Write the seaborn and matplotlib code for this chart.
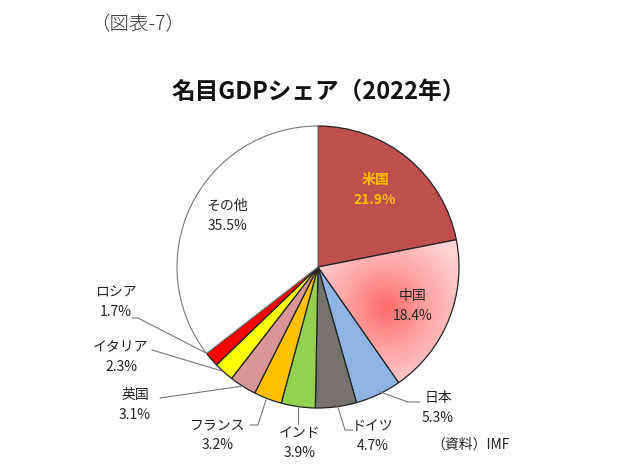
import numpy as np
import matplotlib
matplotlib.use('Agg')
import matplotlib.pyplot as plt
import seaborn as sns
from matplotlib.colors import LinearSegmentedColormap

# データ (IMF, 2022年 名目GDPシェア %)
countries = ['米国', '中国', '日本', 'ドイツ', 'インド', 'フランス', '英国', 'イタリア', 'ロシア', 'その他']
shares = [21.9, 18.4, 5.3, 4.7, 3.9, 3.2, 3.1, 2.3, 1.7, 35.5]
colors = ['#C0504D', '#FFC4C4', '#8EB4E3', '#76736E', '#92D050',
          '#FFC000', '#D99694', '#FFFF00', '#FF0000', '#FFFFFF']

sns.set_theme(style='white')
plt.rcParams['font.family'] = ['Noto Sans CJK JP', 'DejaVu Sans']

W, H = 630, 469
CX, CY, R = 318, 267, 141  # 円の中心と半径 (px)


def px(x, y):
    # ピクセル座標 -> データ座標
    return (x - CX) / R, (CY - y) / R


fig = plt.figure(figsize=(W / 100, H / 100), dpi=100)
ax = fig.add_axes([0, 0, 1, 1])

wedges, _ = ax.pie(shares, colors=colors, startangle=90, counterclock=False,
                   radius=1, center=(0, 0),
                   wedgeprops=dict(edgecolor='#222222', linewidth=0.9))
wedges[-1].set_edgecolor('#777777')
wedges[-1].set_linewidth(0.8)

# 中国のグラデーション
gx, gy = px(386, 308)
xs = np.linspace(-0.2, 1.1, 300)
ys = np.linspace(-1.1, 0.4, 300)
XX, YY = np.meshgrid(xs, ys)
dist = np.sqrt((XX - gx) ** 2 + (YY - gy) ** 2)
cmap = LinearSegmentedColormap.from_list('cn', ['#FF6A6A', '#FFA5A5', '#FFD3D3'])
im = ax.imshow(dist, extent=(xs[0], xs[-1], ys[0], ys[-1]), origin='lower',
               cmap=cmap, vmin=0, vmax=0.6, zorder=wedges[1].get_zorder() + 0.1)
im.set_clip_path(wedges[1])
wedges[1].set_facecolor('none')
wedges[1].set_zorder(im.get_zorder() + 0.1)

# pie()/imshow() が範囲を上書きするので後で設定
ax.set_xlim(-CX / R, (W - CX) / R)
ax.set_ylim(-(H - CY) / R, CY / R)
ax.set_aspect('equal')
ax.axis('off')

fs = 10
# 内側ラベル
inside = {'米国': (375, 190), '中国': (413, 306), 'その他': (227, 216)}
for i, name in enumerate(countries):
    if name in inside:
        x, y = px(*inside[name])
        if name == '米国':
            ax.text(x, y, f'{name}\n{shares[i]}%', ha='center', va='center',
                    fontsize=fs, color='#FFC000', fontweight='bold', linespacing=1.5)
        else:
            ax.text(x, y, f'{name}\n{shares[i]}%', ha='center', va='center',
                    fontsize=fs, color='#222222', linespacing=1.5)

# 外側ラベル (テキスト位置, 引き出し線の点)
outside = {
    '日本': ((438, 408), [(380, 392), (408, 402), (420, 402)]),
    'ドイツ': ((373, 436), [(337, 404), (345, 430), (353, 430)]),
    'インド': ((300, 443), [(298, 405), (298, 424)]),
    'フランス': ((218, 435), [(266, 400), (258, 425), (250, 425)]),
    '英国': ((135, 405), [(243, 386), (160, 398)]),
    'イタリア': ((121, 357), [(222, 371), (152, 350)]),
    'ロシア': ((116, 302), [(206, 353), (138, 318), (132, 318)]),
}
for i, name in enumerate(countries):
    if name in outside:
        (tx, ty), pts = outside[name]
        x, y = px(tx, ty)
        ax.text(x, y, f'{name}\n{shares[i]}%', ha='center', va='center',
                fontsize=fs, color='#222222', linespacing=1.5)
        lx, ly = zip(*[px(*p) for p in pts])
        ax.plot(lx, ly, color='#777777', linewidth=0.8)

# タイトル等
x, y = px(319, 92)
ax.text(x, y, '名目GDPシェア（2022年）', ha='center', va='center',
        fontsize=17, fontweight='bold', color='#111111')
x, y = px(137, 25)
ax.text(x, y, '（図表-7）', ha='center', va='center', fontsize=14,
        color='#333333', fontweight='light')
x, y = px(471, 445)
ax.text(x, y, '（資料）IMF', ha='center', va='center', fontsize=fs, color='#222222')

fig.savefig('out.png', dpi=100)
